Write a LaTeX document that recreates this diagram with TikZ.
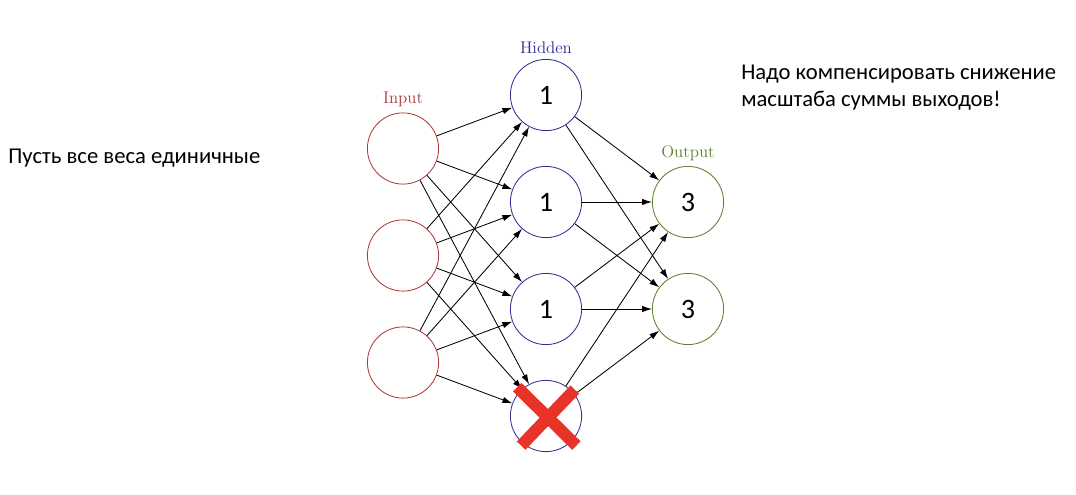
\documentclass[tikz,border=0pt]{standalone}
\usepackage{fontspec}
\usepackage{tikz}
\usetikzlibrary{positioning,calc,arrows.meta}
\newfontfamily\slidefont{Carlito}
\definecolor{inred}{RGB}{176,58,58}
\definecolor{hidblue}{RGB}{46,46,150}
\definecolor{outgreen}{RGB}{92,128,44}
\definecolor{crossred}{RGB}{232,52,40}
\tikzstyle{connector} = [line width=0.6pt, -{Latex[length=7pt,width=4.5pt]}]
\tikzstyle{neuron} = [circle, minimum size=1.78cm, inner sep=0pt, line width=0.6pt, font=\slidefont\fontsize{20}{22}\selectfont]
\tikzstyle{layername} = [font=\fontsize{12}{14}\selectfont]
\tikzstyle{slidetext} = [inner sep=0pt, align=left, font=\slidefont\fontsize{16.1}{19.2}\selectfont]

\begin{document}
\begin{tikzpicture}[node distance=2.675cm]
                \useasboundingbox (0,0) rectangle (26.9,-12.35);

                \node (h1) [neuron, draw=hidblue] at (13.65,-2.375) {1};
                \node (h2) [neuron, draw=hidblue, below of=h1] {1};
                \node (h3) [neuron, draw=hidblue, below of=h2] {1};
                \node (h4) [neuron, draw=hidblue, below of=h3] {};
                \node (i1) [neuron, draw=inred, left of=h1, node distance=3.575cm, yshift=-1.3375cm] {};
                \node (i2) [neuron, draw=inred, below of=i1] {};
                \node (i3) [neuron, draw=inred, below of=i2] {};
                \node (o1) [neuron, draw=outgreen, right of=h2, node distance=3.55cm] {3};
                \node (o2) [neuron, draw=outgreen, below of=o1] {3};

                \node (inname) [layername, text=inred, above of=i1, node distance=1.225cm] {Input};
                \node (hidname) [layername, text=hidblue, above of=h1, node distance=1.175cm] {Hidden};
                \node (outname) [layername, text=outgreen, above of=o1, node distance=1.225cm] {Output};

                \foreach \i in {1,2,3}
                    \foreach \h in {1,2,3,4}
                        \draw [connector] (i\i) -- (h\h);
                \foreach \h in {1,2,3,4}
                    \foreach \o in {1,2}
                        \draw [connector] (h\h) -- (o\o);

                % dropped unit
                \draw [crossred, line width=0.3cm] ($(h4)+(-0.72,0.72)$) -- ($(h4)+(0.76,-0.74)$);
                \draw [crossred, line width=0.3cm] ($(h4)+(0.72,0.66)$) -- ($(h4)+(-0.62,-0.74)$);

                \node (weights) [slidetext, anchor=base west] at (0.2,-4.075) {Пусть все веса единичные};
                \node (rescale) [slidetext, anchor=north west] at (18.525,-1.62) {Надо компенсировать снижение\\масштаба суммы выходов!};
            \end{tikzpicture}
\end{document}
